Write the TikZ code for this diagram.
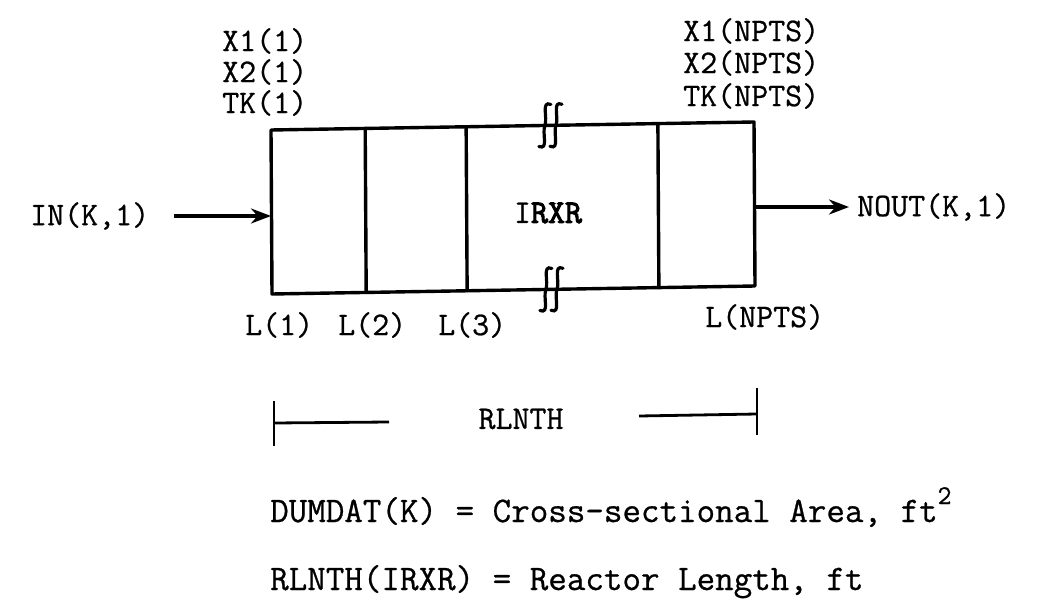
\documentclass[tikz,border=0pt]{standalone}
\usepackage{fontspec}
\setmonofont{Latin Modern Mono}[FakeBold=0.7, BoldFont={Latin Modern Mono}, BoldFeatures={FakeBold=3}]
\usetikzlibrary{arrows.meta,calc}
\tikzset{
  lab/.style={font=\ttfamily\fontsize{33pt}{36pt}\selectfont, inner sep=0pt},
  note/.style={font=\ttfamily\fontsize{36pt}{40pt}\selectfont, inner sep=0pt, anchor=base west},
  wall/.style={line width=3.4pt, line cap=round, line join=round},
  flow/.style={line width=3.4pt, -{Stealth[length=20pt,width=15pt]}},
  dim/.style={line width=2.8pt},
  brk/.pic={\draw[line width=3.2pt, line cap=round]
     (6,-21) .. controls (-4,-25) and (3,-8) .. (0,0)
     .. controls (-3,8) and (4,25) .. (-6,21);}
}
\begin{document}
\begin{tikzpicture}[x=1pt,y=-1pt]
\useasboundingbox (0,0) rectangle (1038,604);
% reactor box
\coordinate (TL) at (271,130);
\coordinate (TR) at (754,122);
\coordinate (BL) at (272,294);
\coordinate (BR) at (755,286);
\draw[wall] (TL) -- (TR) -- (BR) -- (BL) -- cycle;
\foreach \t in {0.195,0.404,0.801}
  \draw[wall] ($(TL)!\t!(TR)$) -- ($(BL)!\t!(BR)$);
% break marks
\path ($(TL)!0.567!(TR)$) pic {brk};
\path ($(TL)!0.590!(TR)$) pic {brk};
\path ($(BL)!0.567!(BR)$) pic {brk};
\path ($(BL)!0.590!(BR)$) pic {brk};
\node[lab] (irxr) at (548,213) {I\textbf{RXR}};
% top labels
\node[lab, anchor=west] (x1a) at (222,41) {X1(1)};
\node[lab, anchor=west] (x2a) at (222,72) {X2(1)};
\node[lab, anchor=west] (tka) at (222,103) {TK(1)};
\node[lab, anchor=west] (x1b) at (683,31) {X1(NPTS)};
\node[lab, anchor=west] (x2b) at (683,63) {X2(NPTS)};
\node[lab, anchor=west] (tkb) at (683,96) {TK(NPTS)};
% bottom labels
\node[lab, anchor=west] (l1) at (245,325) {L(1)};
\node[lab, anchor=west] (l2) at (338,325) {L(2)};
\node[lab, anchor=west] (l3) at (438,325) {L(3)};
\node[lab, anchor=west] (ln) at (705,317) {L(NPTS)};
% inflow / outflow
\node[lab, anchor=west] (in) at (30,216) {IN(K,1)};
\coordinate (boxin) at (271,216);
\draw[flow] ([xshift=25pt]in.east) -- (boxin);
\coordinate (boxout) at (755,207);
\node[lab, anchor=west] (nout) at (857,207) {NOUT(K,1)};
\draw[flow] (boxout) -- ([xshift=-8pt]nout.west);
% RLNTH dimension
\node[lab] (rl) at (521,419) {RLNTH};
\coordinate (dl) at (274,423);
\coordinate (dlend) at (389,422);
\coordinate (drbeg) at (639,416);
\coordinate (dr) at (757,414);
\draw[dim] (dl) -- (dlend);
\draw[dim] (drbeg) -- (dr);
\draw[dim] ($(dl)+(0,-22)$) -- ($(dl)+(0,23)$);
\draw[dim] ($(dr)+(0,-26)$) -- ($(dr)+(0,21)$);
% notes
\node[note] (n1) at (270,522) {DUMDAT(K) = Cross-sectional Area, ft\raisebox{0.5em}{\fontsize{27pt}{27pt}\selectfont 2}};
\node[note] (n2) at (270,590) {RLNTH(IRXR) = Reactor Length, ft};
\end{tikzpicture}
\end{document}
